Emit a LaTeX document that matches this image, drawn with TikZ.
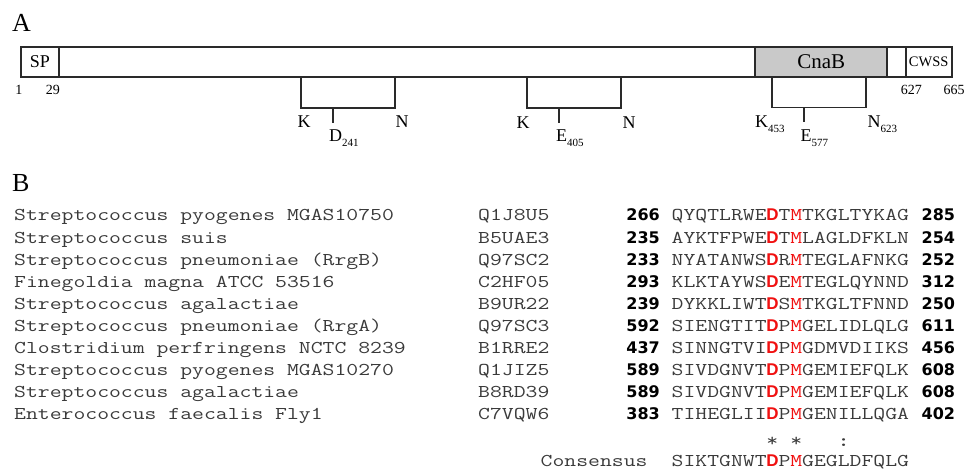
\documentclass[tikz,border=0pt]{standalone}
\usepackage{fontspec}
\usepackage{graphicx}
\setmainfont{Liberation Serif}
\newfontfamily\numfont{DejaVu Sans}
\newfontfamily\sansfnt{Liberation Sans}
\definecolor{linegray}{HTML}{2A2A2A}
\definecolor{boxgray}{HTML}{C9C9C9}
\definecolor{txtgray}{HTML}{3A3A3A}
\definecolor{seqred}{HTML}{F01010}
\newlength\monocw
\settowidth{\monocw}{\fontsize{18}{18}\selectfont\ttfamily M}
\newcommand\mono[1]{\scalebox{1.28}[1]{\fontsize{18}{18}\selectfont\ttfamily #1}}
\newcommand\RD{\makebox[\monocw]{\scalebox{0.78}[1]{\fontsize{17}{17}\selectfont\sansfnt\bfseries\color{seqred}D}}}
\newcommand\RM{{\color{seqred}M}}
\newcommand\subs[1]{\raisebox{-4.5pt}{\fontsize{11}{11}\selectfont #1}}
\tikzset{
  bar/.style={draw=linegray, line width=1.8pt},
  lbl/.style={inner sep=0pt, anchor=base west, font=\fontsize{18}{18}\selectfont},
  poslbl/.style={inner sep=0pt, anchor=base, font=\fontsize{14}{14}\selectfont},
  mtxt/.style={inner sep=0pt, anchor=base west, text=txtgray},
  num/.style={inner sep=0pt, font=\fontsize{16}{16}\selectfont\numfont\bfseries},
  panel/.style={inner sep=0pt, anchor=base west, font=\fontsize{26}{26}\selectfont},
}
\begin{document}
\begin{tikzpicture}[x=1pt,y=-1pt]
\useasboundingbox (0,0) rectangle (965,470);
% ---------- Panel A ----------
\node[panel] (labA) at (12,31.5) {A};
\draw[bar, fill=white] (20.7,46.7) rectangle (951.7,77);
\draw[bar, fill=boxgray] (755.3,46.7) rectangle (887.3,77);
\draw[bar] (59,46.7) -- (59,77);
\draw[bar] (905.7,46.7) -- (905.7,77);
\node[inner sep=0pt, font=\fontsize{18}{18}\selectfont] (sp) at (39.9,62) {SP};
\node[inner sep=0pt, font=\fontsize{21}{21}\selectfont] (cnab) at (821.3,62) {CnaB};
\node[inner sep=0pt, font=\fontsize{14.5}{14.5}\selectfont] (cwss) at (928.7,62) {CWSS};
\node[poslbl] (p1) at (19,94.3) {1};
\node[poslbl] (p29) at (52.8,94.3) {29};
\node[poslbl] (p627) at (911.3,94.3) {627};
\node[poslbl, anchor=base west] (p665) at (943.5,94.3) {665};
% brackets
\draw[bar] (300.7,77) -- (300.7,107.7) -- (395,107.7) -- (395,77);
\draw[bar] (332.7,107.7) -- (332.7,122.7);
\draw[bar] (527.3,77) -- (527.3,108.3) -- (620.7,108.3) -- (620.7,77);
\draw[bar] (559.3,108.3) -- (559.3,123);
\draw[bar] (772.3,77) -- (772.3,107.5) -- (866,107.5) -- (866,77);
\draw[bar] (804.3,107.5) -- (804.3,122.5);
\node[lbl] (k1) at (297.5,127.5) {K};
\node[lbl] (n1) at (395.5,127.5) {N};
\node[lbl] (d1) at (329,142) {D\subs{241}};
\node[lbl] (k2) at (516.5,128.5) {K};
\node[lbl] (n2) at (622.5,128.5) {N};
\node[lbl] (e2) at (556,142) {E\subs{405}};
\node[lbl] (k3) at (755,128) {K\subs{453}};
\node[lbl] (n3) at (867.5,128) {N\subs{623}};
\node[lbl] (e3) at (800.5,142) {E\subs{577}};
% ---------- Panel B ----------
\node[panel] (labB) at (12,191.5) {B};
\foreach \spc/\acc/\na/\pre/\mid/\post/\nb [count=\i] in {
  Streptococcus pyogenes MGAS10750/Q1J8U5/266/QYQTLRWE/T/TKGLTYKAG/285,
  Streptococcus suis/B5UAE3/235/AYKTFPWE/T/LAGLDFKLN/254,
  Streptococcus pneumoniae (RrgB)/Q97SC2/233/NYATANWS/R/TEGLAFNKG/252,
  Finegoldia magna ATCC 53516/C2HF05/293/KLKTAYWS/E/TEGLQYNND/312,
  Streptococcus agalactiae/B9UR22/239/DYKKLIWT/S/TKGLTFNND/250,
  Streptococcus pneumoniae (RrgA)/Q97SC3/592/SIENGTIT/P/GELIDLQLG/611,
  Clostridium perfringens NCTC 8239/B1RRE2/437/SINNGTVI/P/GDMVDIIKS/456,
  Streptococcus pyogenes MGAS10270/Q1JIZ5/589/SIVDGNVT/P/GEMIEFQLK/608,
  Streptococcus agalactiae/B8RD39/589/SIVDGNVT/P/GEMIEFQLK/608,
  Enterococcus faecalis Fly1/C7VQW6/383/TIHEGLII/P/GENILLQGA/402}
{
  \pgfmathsetmacro\yy{221+22*(\i-1)}
  \node[mtxt] (sp\i) at (14,\yy) {\mono{\spc}};
  \node[mtxt] (ac\i) at (478,\yy) {\mono{\acc}};
  \node[num, anchor=base east] (na\i) at (660,\yy) {\na};
  \node[mtxt] (sq\i) at (671.5,\yy) {\mono{\pre\RD\mid\RM\post}};
  \node[num, anchor=base west] (nb\i) at (921.5,\yy) {\nb};
}
\node[mtxt, anchor=base] (st1) at (772.4,446) {\mono{*}};
\node[mtxt, anchor=base] (st2) at (796.2,446) {\mono{*}};
\node[mtxt, anchor=base] (col) at (843.6,446) {\mono{\textbf{:}}};
\node[mtxt] (cons) at (540.5,466.5) {\mono{Consensus}};
\node[mtxt] (conseq) at (671.5,466.5) {\mono{SIKTGNWT\RD P\RM GEGLDFQLG}};
\end{tikzpicture}
\end{document}
